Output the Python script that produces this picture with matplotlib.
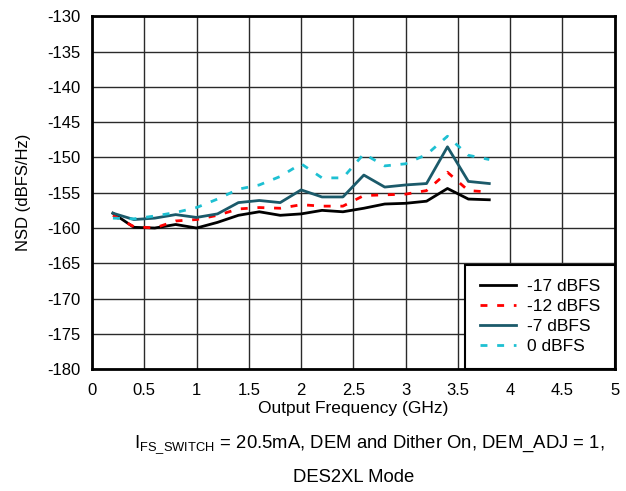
import numpy as np
import matplotlib
matplotlib.use("Agg")
from matplotlib import pyplot as plt

plt.rcParams['font.family'] = ['Liberation Sans', 'DejaVu Sans']
plt.rcParams['mathtext.fontset'] = 'custom'
plt.rcParams['mathtext.rm'] = 'Liberation Sans'
plt.rcParams['mathtext.it'] = 'Liberation Sans'
plt.rcParams['axes.unicode_minus'] = False

# output frequency (GHz)
freq = [0.2, 0.4, 0.6, 0.8, 1.0, 1.2, 1.4, 1.6, 1.8, 2.0,
        2.2, 2.4, 2.6, 2.8, 3.0, 3.2, 3.4, 3.6, 3.8]

# NSD (dBFS/Hz) per output level
nsd_m17 = [-157.9, -159.9, -160.0, -159.5, -160.0, -159.2, -158.2, -157.7, -158.2, -158.0,
           -157.5, -157.7, -157.2, -156.6, -156.5, -156.2, -154.4, -155.9, -156.0]
nsd_m12 = [-158.2, -159.8, -160.0, -159.0, -158.8, -158.2, -157.3, -157.1, -157.2, -156.7,
           -156.9, -156.9, -155.4, -155.3, -155.2, -154.7, -152.1, -154.7, -154.9]
nsd_m7 = [-157.9, -158.8, -158.6, -158.1, -158.5, -158.0, -156.4, -156.1, -156.4, -154.6,
          -155.6, -155.6, -152.5, -154.2, -153.9, -153.7, -148.5, -153.4, -153.7]
nsd_0 = [-158.6, -158.7, -158.3, -157.8, -157.1, -155.9, -154.5, -153.9, -152.7, -150.9,
         -152.9, -152.9, -149.5, -151.2, -150.9, -149.6, -147.0, -149.7, -150.3]

x_ticks = [0, 0.5, 1, 1.5, 2, 2.5, 3, 3.5, 4, 4.5, 5]
x_labels = ['0', '0.5', '1', '1.5', '2', '2.5', '3', '3.5', '4', '4.5', '5']
y_ticks = list(range(-180, -129, 5))

fig = plt.figure(figsize=(6.26, 4.91), dpi=100)
ax = fig.add_axes([0.147, 0.248, 0.835, 0.719])

ax.plot(freq, nsd_m17, color='black', lw=2, label='-17 dBFS')
ax.plot(freq, nsd_m12, color='#ff0000', lw=2, ls=(0, (2.5, 3.5)), label='-12 dBFS')
ax.plot(freq, nsd_m7, color='#1b5a6a', lw=2, label='-7 dBFS')
ax.plot(freq, nsd_0, color='#1ec0d2', lw=2, ls=(0, (2.5, 3.5)), label='0 dBFS')

ax.set_xlim(0, 5)
ax.set_ylim(-180, -130)
ax.set_xticks(x_ticks)
ax.set_xticklabels(x_labels)
ax.set_yticks(y_ticks)
ax.tick_params(axis='x', labelsize=12, length=0, pad=10)
ax.tick_params(axis='y', labelsize=12, length=0, pad=8)
ax.grid(True, color='#2a2a2a', lw=1)
for s in ax.spines.values():
    s.set_linewidth(2)

ax.set_xlabel('Output Frequency (GHz)', fontsize=12.5, labelpad=2)
ax.set_ylabel('NSD (dBFS/Hz)', fontsize=12, labelpad=12)

leg = ax.legend(loc='lower right', fontsize=12.5, fancybox=False, framealpha=1,
                edgecolor='black', borderaxespad=0, handlelength=2.1,
                borderpad=0.85, labelspacing=0.28, handletextpad=0.6)
leg.get_frame().set_linewidth(1.5)

fig.text(0.59, 0.095, r'I$_{\mathrm{FS\_SWITCH}}$ = 20.5mA, DEM and Dither On, DEM_ADJ = 1,',
         ha='center', va='center', fontsize=13.3)
fig.text(0.565, 0.028, 'DES2XL Mode', ha='center', va='center', fontsize=13.3)

fig.savefig('out.png', dpi=100)
